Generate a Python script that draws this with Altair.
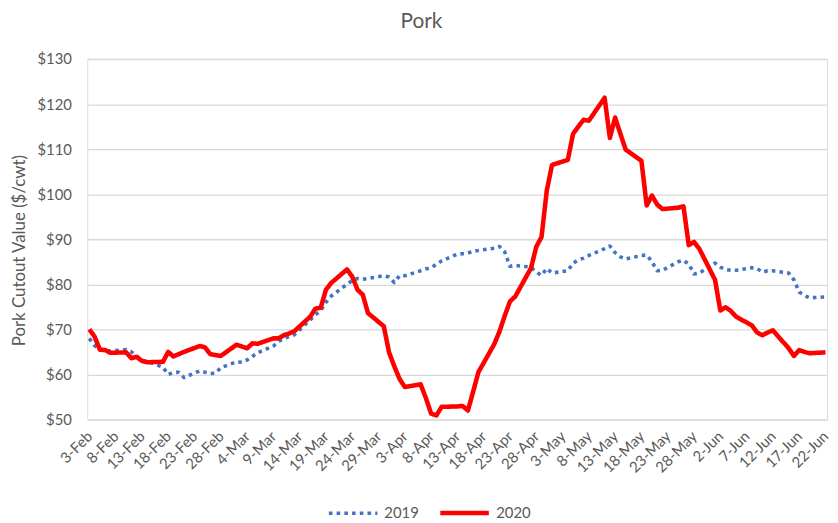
import altair as alt
import pandas as pd

# Weekday offsets (days since 3-Feb) for the daily cutout series
days = [d for d in range(141) if d % 7 < 5]

pork_2019 = [
    68.0, 66.4, 65.6, 65.3, 65.2,
    65.5, 65.0, 64.0, 63.1, 62.9,
    61.6, 60.0, 60.4, 60.5, 59.3,
    60.8, 60.5, 60.2, 60.3, 61.5,
    62.8, 62.7, 63.2, 64.0, 64.8,
    66.3, 67.3, 68.0, 68.4, 68.8,
    72.1, 73.3, 74.1, 76.0, 77.4,
    80.0, 80.8, 81.3, 81.1, 81.3,
    81.9, 81.6, 80.4, 81.9, 81.9,
    83.0, 83.4, 83.7, 84.4, 85.2,
    86.7, 86.8, 86.9, 87.4, 87.5,
    88.0, 88.4, 87.2, 84.0, 84.2,
    83.8, 82.7, 82.0, 83.5, 82.5,
    83.0, 84.7, 85.4, 85.8, 86.4,
    87.9, 88.5, 87.0, 86.1, 85.6,
    86.4, 86.5, 85.0, 83.0, 83.1,
    85.0, 85.3, 84.5, 82.3, 82.5,
    84.7, 83.8, 83.3, 83.1, 83.1,
    83.7, 83.5, 82.7, 83.0, 83.0,
    82.5, 81.0, 78.3, 77.5, 77.0,
    77.2,
]

pork_2020 = [
    70.0, 68.4, 65.5, 65.4, 64.8,
    64.9, 63.6, 63.9, 63.0, 62.7,
    62.8, 65.0, 64.0, 64.5, 65.0,
    66.3, 66.0, 64.5, 64.3, 64.1,
    66.6, 66.2, 65.8, 66.9, 66.8,
    68.0, 68.0, 68.7, 69.1, 69.6,
    72.8, 74.6, 74.8, 78.8, 80.3,
    83.3, 81.7, 78.8, 77.7, 73.6,
    70.7, 64.9, 61.8, 59.0, 57.2,
    57.8, 54.8, 51.3, 50.9, 52.8,
    52.9, 53.0, 52.0, 56.2, 60.5,
    66.7, 69.5, 73.0, 76.2, 77.3,
    83.6, 88.3, 90.5, 100.8, 106.5,
    107.6, 113.4, 115.0, 116.5, 116.3,
    121.4, 112.5, 117.0, 113.4, 109.9,
    107.4, 97.5, 99.7, 97.7, 96.7,
    97.0, 97.3, 88.7, 89.4, 87.9,
    81.0, 74.2, 74.9, 74.1, 72.8,
    70.9, 69.3, 68.7, 69.3, 69.8,
    65.8, 64.1, 65.4, 65.0, 64.7,
    64.9,
]

x_labels = ["3-Feb", "8-Feb", "13-Feb", "18-Feb", "23-Feb", "28-Feb", "4-Mar",
            "9-Mar", "14-Mar", "19-Mar", "24-Mar", "29-Mar", "3-Apr", "8-Apr",
            "13-Apr", "18-Apr", "23-Apr", "28-Apr", "3-May", "8-May", "13-May",
            "18-May", "23-May", "28-May", "2-Jun", "7-Jun", "12-Jun", "17-Jun",
            "22-Jun"]
y_ticks = [50, 60, 70, 80, 90, 100, 110, 120, 130]
series_names = ["2019", "2020"]
series_colors = ["#4472C4", "#FF0000"]

rows = []
for name, vals in zip(series_names, [pork_2019, pork_2020]):
    for d, v in zip(days, vals):
        rows.append({"day": d, "value": v, "series": name})
df = pd.DataFrame(rows)

label_expr = "[" + ",".join("'" + l + "'" for l in x_labels) + "][round(datum.value / 5)]"
FONT = "Lato"
GRAY = "#595959"

legend_props = dict(title=None, orient="none", direction="horizontal",
                    legendX=242, legendY=431, symbolType="stroke",
                    symbolSize=2400, symbolStrokeWidth=4,
                    labelFont=FONT, labelFontSize=15, labelColor=GRAY,
                    columnPadding=12, labelOffset=5)

chart = alt.Chart(df).mark_line(strokeCap="butt", strokeJoin="round").encode(
    x=alt.X("day:Q",
            scale=alt.Scale(domain=[-0.4, 140.3], nice=False, zero=False),
            axis=alt.Axis(values=list(range(0, 141, 5)), labelExpr=label_expr,
                          labelAngle=-45, labelAlign="right", labelBaseline="middle",
                          labelPadding=14, labelOverlap=False, labelFlush=False,
                          labelBound=False, grid=False, ticks=False, domain=False,
                          title=None, labelFont=FONT, labelFontSize=15,
                          labelColor=GRAY)),
    y=alt.Y("value:Q",
            scale=alt.Scale(domain=[50, 130], nice=False, zero=False),
            axis=alt.Axis(values=y_ticks, labelExpr="'$' + datum.value",
                          grid=True, gridColor="#D9D9D9", gridWidth=1.3,
                          domain=False, ticks=False, labelPadding=16,
                          labelFont=FONT, labelFontSize=15, labelColor=GRAY,
                          title="Pork Cutout Value ($/cwt)", titleFont=FONT,
                          titleFontSize=17, titleColor=GRAY, titleFontWeight="normal",
                          titleX=-59, titleY=193)),
    color=alt.Color("series:N",
                    scale=alt.Scale(domain=series_names, range=series_colors),
                    legend=alt.Legend(**legend_props)),
    strokeDash=alt.StrokeDash("series:N",
                              scale=alt.Scale(domain=series_names, range=[[3.6, 4.2], [1, 0]]),
                              legend=alt.Legend(**legend_props)),
    strokeWidth=alt.StrokeWidth("series:N",
                                scale=alt.Scale(domain=series_names, range=[3.6, 4.6]),
                                legend=None),
).properties(
    width=747,
    height=364,
    title=alt.TitleParams("Pork", fontSize=21, color=GRAY, font=FONT,
                          fontWeight="normal", anchor="middle", dx=-36,
                          baseline="alphabetic", offset=3),
    autosize=alt.AutoSizeParams(type="none"),
    padding={"left": 80, "top": 49, "right": 3, "bottom": 100},
).configure_view(stroke=None).configure(background="white")

chart.save("out.html", embed_options={"renderer": "svg", "actions": False})
